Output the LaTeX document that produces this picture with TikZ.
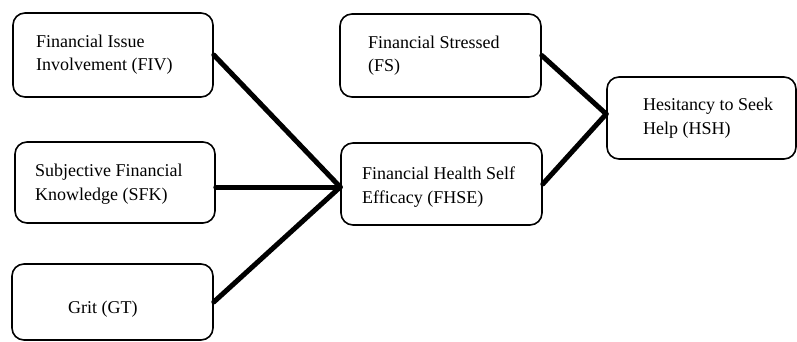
\documentclass[tikz,border=0pt]{standalone}
\usepackage{fontspec}
\setmainfont{Liberation Serif}
\begin{document}
\begin{tikzpicture}[x=1pt,y=-1pt,
  box/.style={draw=black,line width=1.6pt,rounded corners=12pt,minimum width=#1,inner sep=0pt},
  lbl/.style={anchor=base west,inner sep=0pt,align=left,font=\fontsize{18}{23.5}\selectfont},
  link/.style={line width=5pt,line cap=round}]
\useasboundingbox (0,0) rectangle (797,342);
\node[box=200pt,minimum height=84pt] (fiv) at (113,55) {};
\node[box=200pt,minimum height=81pt] (sfk) at (115,182.5) {};
\node[box=201pt,minimum height=76pt] (gt) at (112.5,302) {};
\node[box=201pt,minimum height=83pt] (fs) at (440.5,55.5) {};
\node[box=201pt,minimum height=82pt] (fhse) at (441.5,184) {};
\node[box=189pt,minimum height=82pt] (hsh) at (701.5,118) {};
\node[lbl] (tfiv) at (36,71) {Financial Issue\\Involvement (FIV)};
\node[lbl] (tsfk) at (35,200) {Subjective Financial\\Knowledge (SFK)};
\node[lbl] (tgt) at (68,313) {Grit (GT)};
\node[lbl] (tfs) at (368,72) {Financial Stressed\\(FS)};
\node[lbl] (tfhse) at (362,203) {Financial Health Self\\Efficacy (FHSE)};
\node[lbl] (thsh) at (643,134) {Hesitancy to Seek\\Help (HSH)};
\coordinate (j1) at ([yshift=-3pt]fhse.west);
\coordinate (j2) at ([yshift=4pt]hsh.west);
\draw[link] (fiv.east) -- (j1);
\draw[link] (sfk.east |- j1) -- (j1);
\draw[link] (gt.east) -- (j1);
\draw[link] (fs.east) -- (j2);
\draw[link] (fhse.east) -- (j2);
\end{tikzpicture}
\end{document}
